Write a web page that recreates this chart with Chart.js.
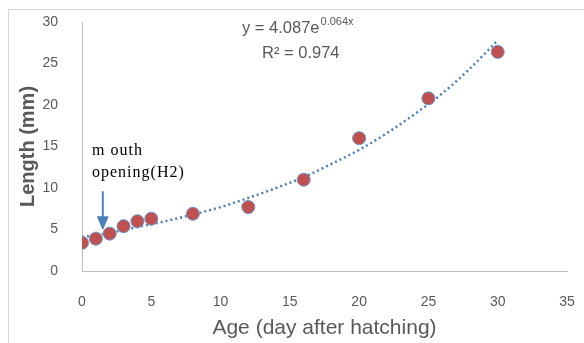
<!DOCTYPE html>
<html>
<head>
<meta charset="utf-8">
<script src="https://cdn.jsdelivr.net/npm/chart.js@4.4.0/dist/chart.umd.min.js"></script>
<style>
    body { margin: 0; background: #fff; }
    .wrap { position: relative; width: 584px; height: 343px; overflow: hidden; }
    .frame { position: absolute; left: 8px; top: 9px; width: 640px; height: 400px; border: 1px solid #d9d9d9; pointer-events: none; }
</style>
</head>
<body>
<div class="wrap">
    <canvas id="growthChart" width="584" height="343"></canvas>
    <div class="frame"></div>
</div>
<script>
// measured ages and lengths
const ages = [0, 1, 2, 3, 4, 5, 8, 12, 16, 20, 25, 30];
const lengths = [3.4, 3.9, 4.5, 5.4, 6.0, 6.3, 6.9, 7.7, 11.0, 16.0, 20.8, 26.4];

// exponential trendline
const trendAges = [0, 2, 4, 6, 8, 10, 12, 14, 16, 18, 20, 22, 24, 26, 28, 30];
const trendLengths = [4.1, 4.6, 5.3, 6.0, 6.8, 7.7, 8.8, 10.0, 11.3, 12.9, 14.6, 16.6, 18.9, 21.4, 24.4, 27.8];

const xTicks = [0, 5, 10, 15, 20, 25, 30, 35];
const yTicks = [0, 5, 10, 15, 20, 25, 30];

// arrow marking mouth opening (H2), in data units
const arrowX = 1.5;
const arrowFrom = 9.6;
const arrowTo = 4.9;

const textGray = '#595959';
const axisGray = '#bfbfbf';
const sansFont = '"Liberation Sans", "DejaVu Sans", sans-serif';

// tick padding would otherwise push the plot area in
function noEdgePadding(scale) {
    scale.paddingTop = 0;
    scale.paddingBottom = 0;
    scale.paddingLeft = 0;
    scale.paddingRight = 0;
}

const annotations = {
    id: 'annotations',
    afterDatasetsDraw(chart) {
        const { ctx, scales: { x, y } } = chart;
        ctx.save();

        // arrow
        const ax = x.getPixelForValue(arrowX);
        const ay1 = y.getPixelForValue(arrowFrom);
        const ay2 = y.getPixelForValue(arrowTo);
        ctx.strokeStyle = '#4a7ebb';
        ctx.fillStyle = '#4a7ebb';
        ctx.lineWidth = 2;
        ctx.beginPath();
        ctx.moveTo(ax, ay1);
        ctx.lineTo(ax, ay2 - 12);
        ctx.stroke();
        ctx.beginPath();
        ctx.moveTo(ax - 6, ay2 - 14);
        ctx.lineTo(ax + 6, ay2 - 14);
        ctx.lineTo(ax, ay2);
        ctx.closePath();
        ctx.fill();

        // label next to the arrow
        ctx.fillStyle = '#000';
        ctx.font = '16px "Liberation Serif", "DejaVu Serif", serif';
        ctx.letterSpacing = '1px';
        ctx.textAlign = 'left';
        ctx.textBaseline = 'alphabetic';
        ctx.fillText('m outh', 92, 155);
        ctx.fillText('opening(H2)', 92, 177);
        ctx.letterSpacing = '0px';

        // trendline equation
        ctx.fillStyle = textGray;
        ctx.font = '16.5px ' + sansFont;
        ctx.fillText('y = 4.087e', 242, 33);
        const w = ctx.measureText('y = 4.087e').width;
        ctx.font = '11px ' + sansFont;
        ctx.fillText('0.064x', 242 + w + 1, 25);
        ctx.font = '16.5px ' + sansFont;
        ctx.fillText('R² = 0.974', 262, 58);

        ctx.restore();
    }
};

new Chart(document.getElementById('growthChart'), {
    type: 'scatter',
    data: {
        datasets: [
            {
                label: 'Length',
                data: ages.map((a, i) => ({ x: a, y: lengths[i] })),
                backgroundColor: '#c0504d',
                borderColor: '#6a93cc',
                borderWidth: 1,
                pointRadius: 6.5,
                order: 1
            },
            {
                label: 'Trend',
                type: 'line',
                data: trendAges.map((a, i) => ({ x: a, y: trendLengths[i] })),
                borderColor: '#4a7ebb',
                borderWidth: 2.5,
                borderDash: [2, 3],
                pointRadius: 0,
                fill: false,
                cubicInterpolationMode: 'monotone',
                order: 2
            }
        ]
    },
    options: {
        responsive: false,
        animation: false,
        layout: {
            padding: { left: 8, top: 22, right: 17, bottom: 0 }
        },
        plugins: {
            legend: { display: false },
            tooltip: { enabled: false }
        },
        scales: {
            x: {
                type: 'linear',
                min: 0,
                max: 35,
                afterFit: scale => { scale.height = 72; noEdgePadding(scale); },
                afterBuildTicks: scale => { scale.ticks = xTicks.map(v => ({ value: v })); },
                grid: { display: false, drawTicks: false },
                border: { display: true, color: axisGray, width: 1 },
                ticks: {
                    color: textGray,
                    padding: 23,
                    font: { size: 14, family: sansFont }
                },
                title: {
                    display: true,
                    text: 'Age (day after hatching)',
                    color: textGray,
                    padding: { top: 0, bottom: 2 },
                    font: { size: 21, family: sansFont }
                }
            },
            y: {
                type: 'linear',
                min: 0,
                max: 30,
                afterFit: scale => { scale.width = 74; noEdgePadding(scale); },
                afterBuildTicks: scale => { scale.ticks = yTicks.map(v => ({ value: v })); },
                grid: { display: false, drawTicks: false },
                border: { display: true, color: axisGray, width: 1 },
                ticks: {
                    color: textGray,
                    padding: 24,
                    font: { size: 14, family: sansFont }
                },
                title: {
                    display: true,
                    text: 'Length (mm)',
                    color: textGray,
                    padding: { top: 8, bottom: 0 },
                    font: { size: 20, weight: 'bold', family: sansFont }
                }
            }
        }
    },
    plugins: [annotations]
});
</script>
</body>
</html>
